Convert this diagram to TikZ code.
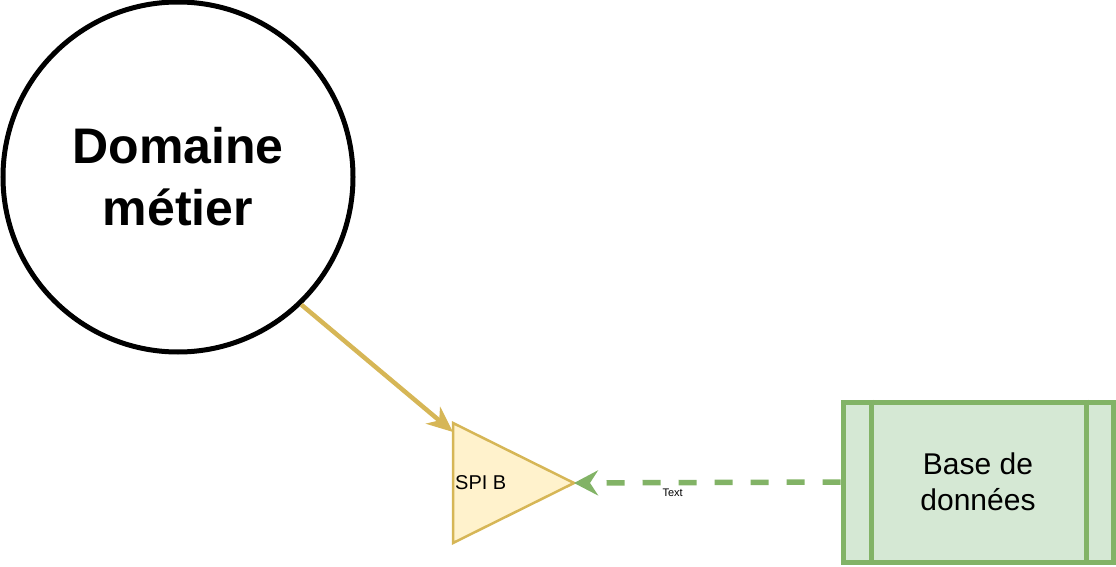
\documentclass[tikz,border=0pt]{standalone}
\usepackage{fontspec}
\setmainfont{Liberation Sans}
\usetikzlibrary{shapes,arrows.meta,positioning}
\definecolor{goldline}{HTML}{D6B656}
\definecolor{goldfill}{HTML}{FFF2CC}
\definecolor{greenline}{HTML}{82B366}
\definecolor{greenfill}{HTML}{D5E8D4}

\begin{document}
\begin{tikzpicture}[
    x=1pt, y=-1pt,
    domcircle/.style={circle, draw=black, line width=5pt, minimum size=350pt, inner sep=0pt,
                   align=center, font=\fontsize{50}{62}\selectfont\bfseries},
    port/.style={isosceles triangle, isosceles triangle stretches, shape border rotate=0,
                 draw=goldline, fill=goldfill, line width=2.5pt, minimum width=120pt,
                 minimum height=121pt, inner sep=0pt, outer sep=0pt},
    store/.style={rectangle, draw=greenline, fill=greenfill, line width=5pt, minimum width=270pt,
                  minimum height=160pt, align=center, font=\fontsize{30}{36}\selectfont},
    uses/.style={-{Stealth[length=26pt,width=22pt,inset=8pt]}, draw=goldline, line width=4.5pt},
    feeds/.style={-{Stealth[length=24pt,width=25pt,inset=8pt]}, draw=greenline, line width=5.5pt,
                  dash pattern=on 18pt off 18pt}
]
\useasboundingbox (0,0) rectangle (1116,567);

\node[domcircle] (dom) at (178,177) {Domaine\\métier};
\node[port, anchor=west, label={[anchor=west, inner sep=2pt, font=\fontsize{20}{24}\selectfont]west:SPI B}] (spi) at (453,483) {};
\node[store] (db) at (978,482) {Base de\\données};
\coordinate (spitop) at (453,432);

\draw[greenline, line width=5pt] ([xshift=30.5pt]db.north west) -- ([xshift=30.5pt]db.south west);
\draw[greenline, line width=5pt] ([xshift=-29.5pt]db.north east) -- ([xshift=-29.5pt]db.south east);

\draw[uses] (dom.-46.6) -- (spitop);
\draw[feeds] (db.west) -- node[pos=0.63, yshift=-10pt, font=\fontsize{11}{13}\selectfont] {Text} (spi.east);

\end{tikzpicture}
\end{document}
